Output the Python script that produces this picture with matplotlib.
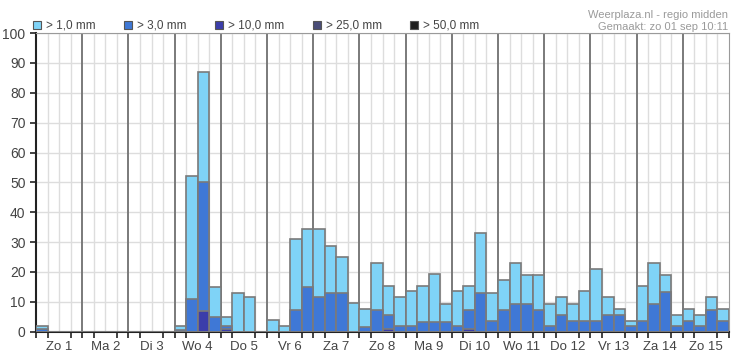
import matplotlib.pyplot as plt
from matplotlib.patches import Rectangle

plt.rcParams['font.family'] = ['Liberation Sans', 'DejaVu Sans']

days = ['Zo 1', 'Ma 2', 'Di 3', 'Wo 4', 'Do 5', 'Vr 6', 'Za 7', 'Zo 8',
        'Ma 9', 'Di 10', 'Wo 11', 'Do 12', 'Vr 13', 'Za 14', 'Zo 15']

# kans op neerslag per 6 uur (%), 4 blokken per dag
p1 = [2, 0, 0, 0, 0, 0, 0, 0, 0, 0, 0, 0,
      2, 52, 87, 15, 5, 13, 11.5, 0, 4, 2, 31, 34.5,
      34.5, 28.6, 25, 9.5, 7.5, 23, 15.4, 11.6, 13.5, 15.4, 19.3, 9.3,
      13.5, 15.4, 33, 13.1, 17.3, 23, 19, 19, 9.3, 11.6, 9.3, 13.5,
      21, 11.6, 7.5, 3.4, 15.4, 23, 19, 5.6, 7.5, 5.6, 11.6, 7.5]
p3 = [0.8, 0, 0, 0, 0, 0, 0, 0, 0, 0, 0, 0,
      0.5, 11, 50, 5, 2, 0, 0, 0, 0, 0, 7.3, 15,
      11.5, 13.1, 13, 0, 1.5, 7.3, 5.6, 2, 2, 3.2, 3.2, 3.2,
      2, 7.3, 13.1, 3.4, 7.3, 9.3, 9.3, 7.3, 2, 5.6, 3.7, 3.7,
      3.7, 5.6, 5.6, 1.9, 3.4, 9.3, 13.3, 1.9, 3.4, 2, 7.3, 3.7]
p10 = [0] * 60
p10[14] = 7
p10[16] = 1
p10[30] = 1
p10[37] = 1
p25 = [0] * 60
p50 = [0] * 60

labels = ['> 1,0 mm', '> 3,0 mm', '> 10,0 mm', '> 25,0 mm', '> 50,0 mm']
colors = ['#7fd3f7', '#3f78d6', '#3b3daa', '#4a4d78', '#1e1e1e']

fig = plt.figure(figsize=(7.5, 3.64), dpi=100)
ax = fig.add_axes([0.048, 0.089, 0.924, 0.82])

x = list(range(60))
for vals, c in zip([p1, p3, p10, p25, p50], colors):
    ax.bar(x, vals, width=1, align='edge', color=c, edgecolor='#7a7a7a',
           linewidth=1.2, zorder=3)

ax.set_xlim(0, 60)
ax.set_ylim(0, 100)

# raster
for i in range(1, 60):
    if i % 4 == 0:
        ax.axvline(i, color='#7a7a7a', lw=1.4, zorder=2)
    else:
        ax.axvline(i, color='#dddddd', lw=1, zorder=1)
for v in range(10, 101, 10):
    ax.axhline(v, color='#dddddd', lw=1, zorder=1)

ax.set_yticks(range(0, 101, 10))
ax.set_xticks(range(0, 61), minor=True)
ax.set_xticks([2 + 4 * d for d in range(15)])
ax.set_xticklabels(days)
ax.tick_params(axis='x', which='major', length=0, labelsize=9.5,
               colors='#444444', pad=7)
ax.tick_params(axis='x', which='minor', length=4, width=1.2, color='#222222')
ax.tick_params(axis='y', length=4, width=1.2, color='#222222', labelsize=10,
               labelcolor='#444444')

for s in ['top', 'right']:
    ax.spines[s].set_color('#9a9a9a')
for s in ['left', 'bottom']:
    ax.spines[s].set_color('#222222')
    ax.spines[s].set_linewidth(1.5)

# legenda
lx = [33, 124, 215, 313, 410]
for px, lab, c in zip(lx, labels, colors):
    fig.patches.append(Rectangle((px / 750, 1 - 29 / 364), 8 / 750, 8 / 364,
                                 transform=fig.transFigure, facecolor=c,
                                 edgecolor='#555555', lw=0.8))
    fig.text((px + 13) / 750, 1 - 25 / 364, lab, fontsize=8.5, color='#444444',
             va='center', ha='left')

fig.text(728 / 750, 1 - 15 / 364, 'Weerplaza.nl - regio midden', fontsize=8,
         color='#9a9a9a', ha='right', va='center')
fig.text(728 / 750, 1 - 27 / 364, 'Gemaakt: zo 01 sep 10:11', fontsize=8,
         color='#9a9a9a', ha='right', va='center')

fig.savefig('out.png', dpi=100)
